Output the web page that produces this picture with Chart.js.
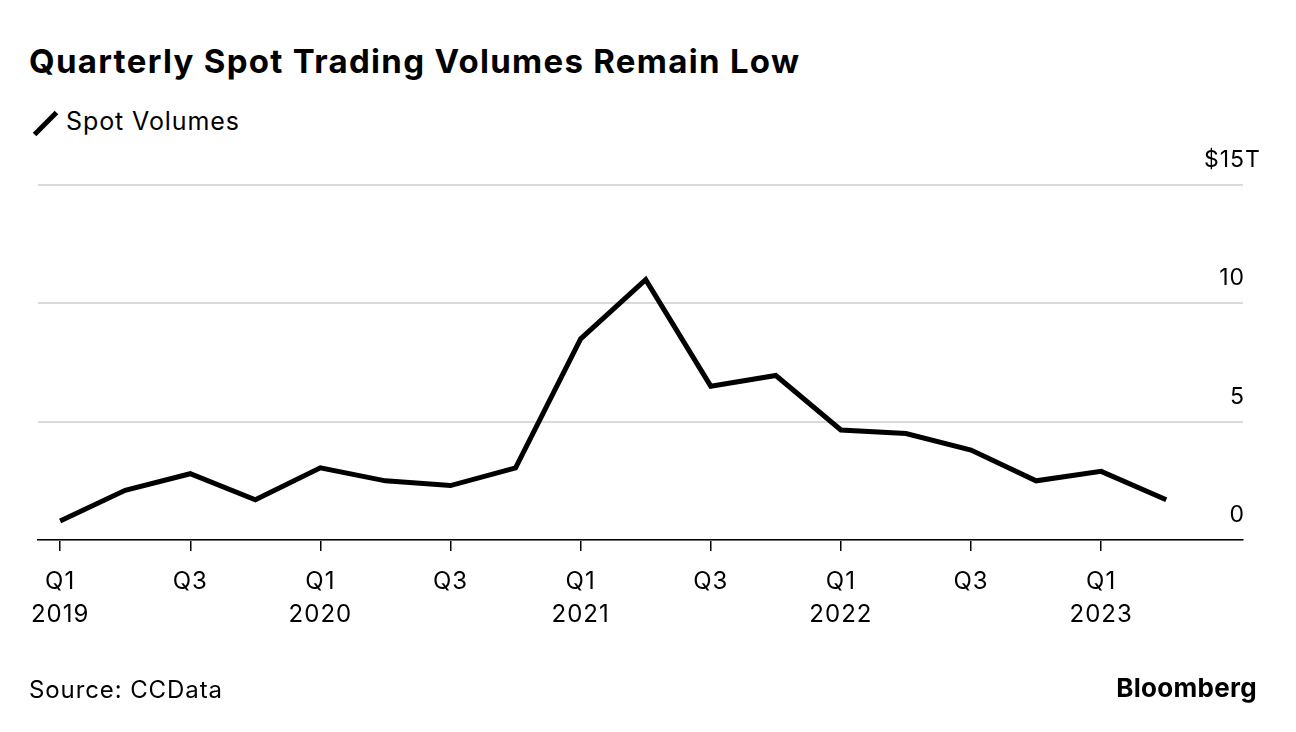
<!DOCTYPE html>
<html>
<head>
<meta charset="utf-8">
<script src="https://cdn.jsdelivr.net/npm/chart.js@4.4.0/dist/chart.umd.min.js"></script>
<style>
  html, body { margin: 0; padding: 0; background: #fff; }
  body { width: 1296px; height: 732px; position: relative; overflow: hidden;
         font-family: Inter, "Liberation Sans", Arial, sans-serif; color: #000; }
  #wrap { position: absolute; left: 0; top: 0; width: 1296px; height: 732px; }
  .title { position: absolute; left: 29px; top: 41px; font-size: 33px; font-weight: bold; letter-spacing: 1.3px; white-space: nowrap; }
  .legend { position: absolute; left: 30px; top: 106px; font-size: 25px; }
  .legend .swatch { position: absolute; left: 0; top: 15px; width: 31px; height: 5px; background: #000;
                    transform: rotate(-45deg); transform-origin: center; }
  .legend .txt { position: absolute; left: 36px; top: 0; white-space: nowrap; letter-spacing: 0.9px; }
  .source { position: absolute; left: 29px; top: 675px; font-size: 24px; letter-spacing: 0.9px; white-space: nowrap; }
  .brand { position: absolute; right: 39px; top: 672px; font-size: 26px; font-weight: bold; letter-spacing: 0.3px; }
</style>
</head>
<body>
<div class="title">Quarterly Spot Trading Volumes Remain Low</div>
<div class="legend"><div class="swatch"></div><span class="txt">Spot Volumes</span></div>
<div id="wrap"><canvas id="chart" width="1296" height="732"></canvas></div>
<div class="source">Source: CCData</div>
<div class="brand">Bloomberg</div>
<script>
// ---------- DATA ----------
const quarters = ['Q1 2019','Q2 2019','Q3 2019','Q4 2019',
                  'Q1 2020','Q2 2020','Q3 2020','Q4 2020',
                  'Q1 2021','Q2 2021','Q3 2021','Q4 2021',
                  'Q1 2022','Q2 2022','Q3 2022','Q4 2022',
                  'Q1 2023','Q2 2023'];
const spotVolumes = [0.8, 2.1, 2.8, 1.7,
                     3.05, 2.5, 2.3, 3.05,
                     8.5, 11.0, 6.5, 6.95,
                     4.65, 4.5, 3.8, 2.5,
                     2.9, 1.7];
const xTickIndex = [0, 2, 4, 6, 8, 10, 12, 14, 16];
const xTickLabels = [['Q1','2019'], 'Q3', ['Q1','2020'], 'Q3', ['Q1','2021'], 'Q3',
                     ['Q1','2022'], 'Q3', ['Q1','2023']];
const yTickValues = [0, 5, 10, 15];
const yTickLabels = ['0', '5', '10', '$15'];
const yUnit = 'T';

const FONT = 'Inter, "Liberation Sans", Arial, sans-serif';

// widen canvas text a little, like the Bloomberg face
const spacing = {
  id: 'spacing',
  beforeDraw(chart) { chart.ctx.letterSpacing = '1px'; }
};

// y labels sit above their gridlines, right aligned, unit hangs past the edge
const yLabels = {
  id: 'yLabels',
  afterDraw(chart) {
    const ctx = chart.ctx;
    const y = chart.scales.y;
    const right = chart.chartArea.right + 2;
    ctx.save();
    ctx.letterSpacing = '1px';
    ctx.font = '23px ' + FONT;
    ctx.fillStyle = '#000';
    ctx.textBaseline = 'middle';
    yTickValues.forEach((v, i) => {
      const py = y.getPixelForValue(v) - 25;
      ctx.textAlign = 'right';
      ctx.fillText(yTickLabels[i], right, py);
      if (i === yTickValues.length - 1) {
        ctx.textAlign = 'left';
        ctx.fillText(yUnit, right, py);
      }
    });
    ctx.restore();
  }
};

new Chart(document.getElementById('chart'), {
  type: 'line',
  data: {
    labels: quarters,
    datasets: [{
      label: 'Spot Volumes',
      data: spotVolumes.map((v, i) => ({ x: i, y: v })),
      borderColor: '#000',
      borderWidth: 5,
      borderJoinStyle: 'miter',
      borderCapStyle: 'butt',
      pointRadius: 0,
      tension: 0,
      fill: false
    }]
  },
  options: {
    responsive: false,
    animation: false,
    devicePixelRatio: 1,
    layout: { padding: { top: 185, left: 38, right: 53, bottom: 72 } },
    plugins: { legend: { display: false }, tooltip: { enabled: false } },
    scales: {
      x: {
        type: 'linear',
        min: -0.34,
        max: 18.18,
        afterBuildTicks(scale) { scale.ticks = xTickIndex.map(v => ({ value: v })); },
        afterFit(scale) { scale.height = 120; },
        grid: { drawOnChartArea: false, drawTicks: true, tickLength: 11, color: '#000', lineWidth: 1.5 },
        border: { display: true, color: '#000', width: 1.5 },
        ticks: {
          autoSkip: false,
          maxRotation: 0,
          padding: 14,
          color: '#000',
          font: { family: FONT, size: 24, lineHeight: 1.38 },
          callback(value) {
            const i = xTickIndex.indexOf(value);
            return i >= 0 ? xTickLabels[i] : '';
          }
        }
      },
      y: {
        min: 0,
        max: 15,
        afterBuildTicks(scale) { scale.ticks = yTickValues.map(v => ({ value: v })); },
        afterFit(scale) { scale.width = 0; },
        grid: { color: '#dadada', lineWidth: 2, drawTicks: false },
        border: { display: false },
        ticks: { display: false }
      }
    }
  },
  plugins: [spacing, yLabels]
});
</script>
</body>
</html>
